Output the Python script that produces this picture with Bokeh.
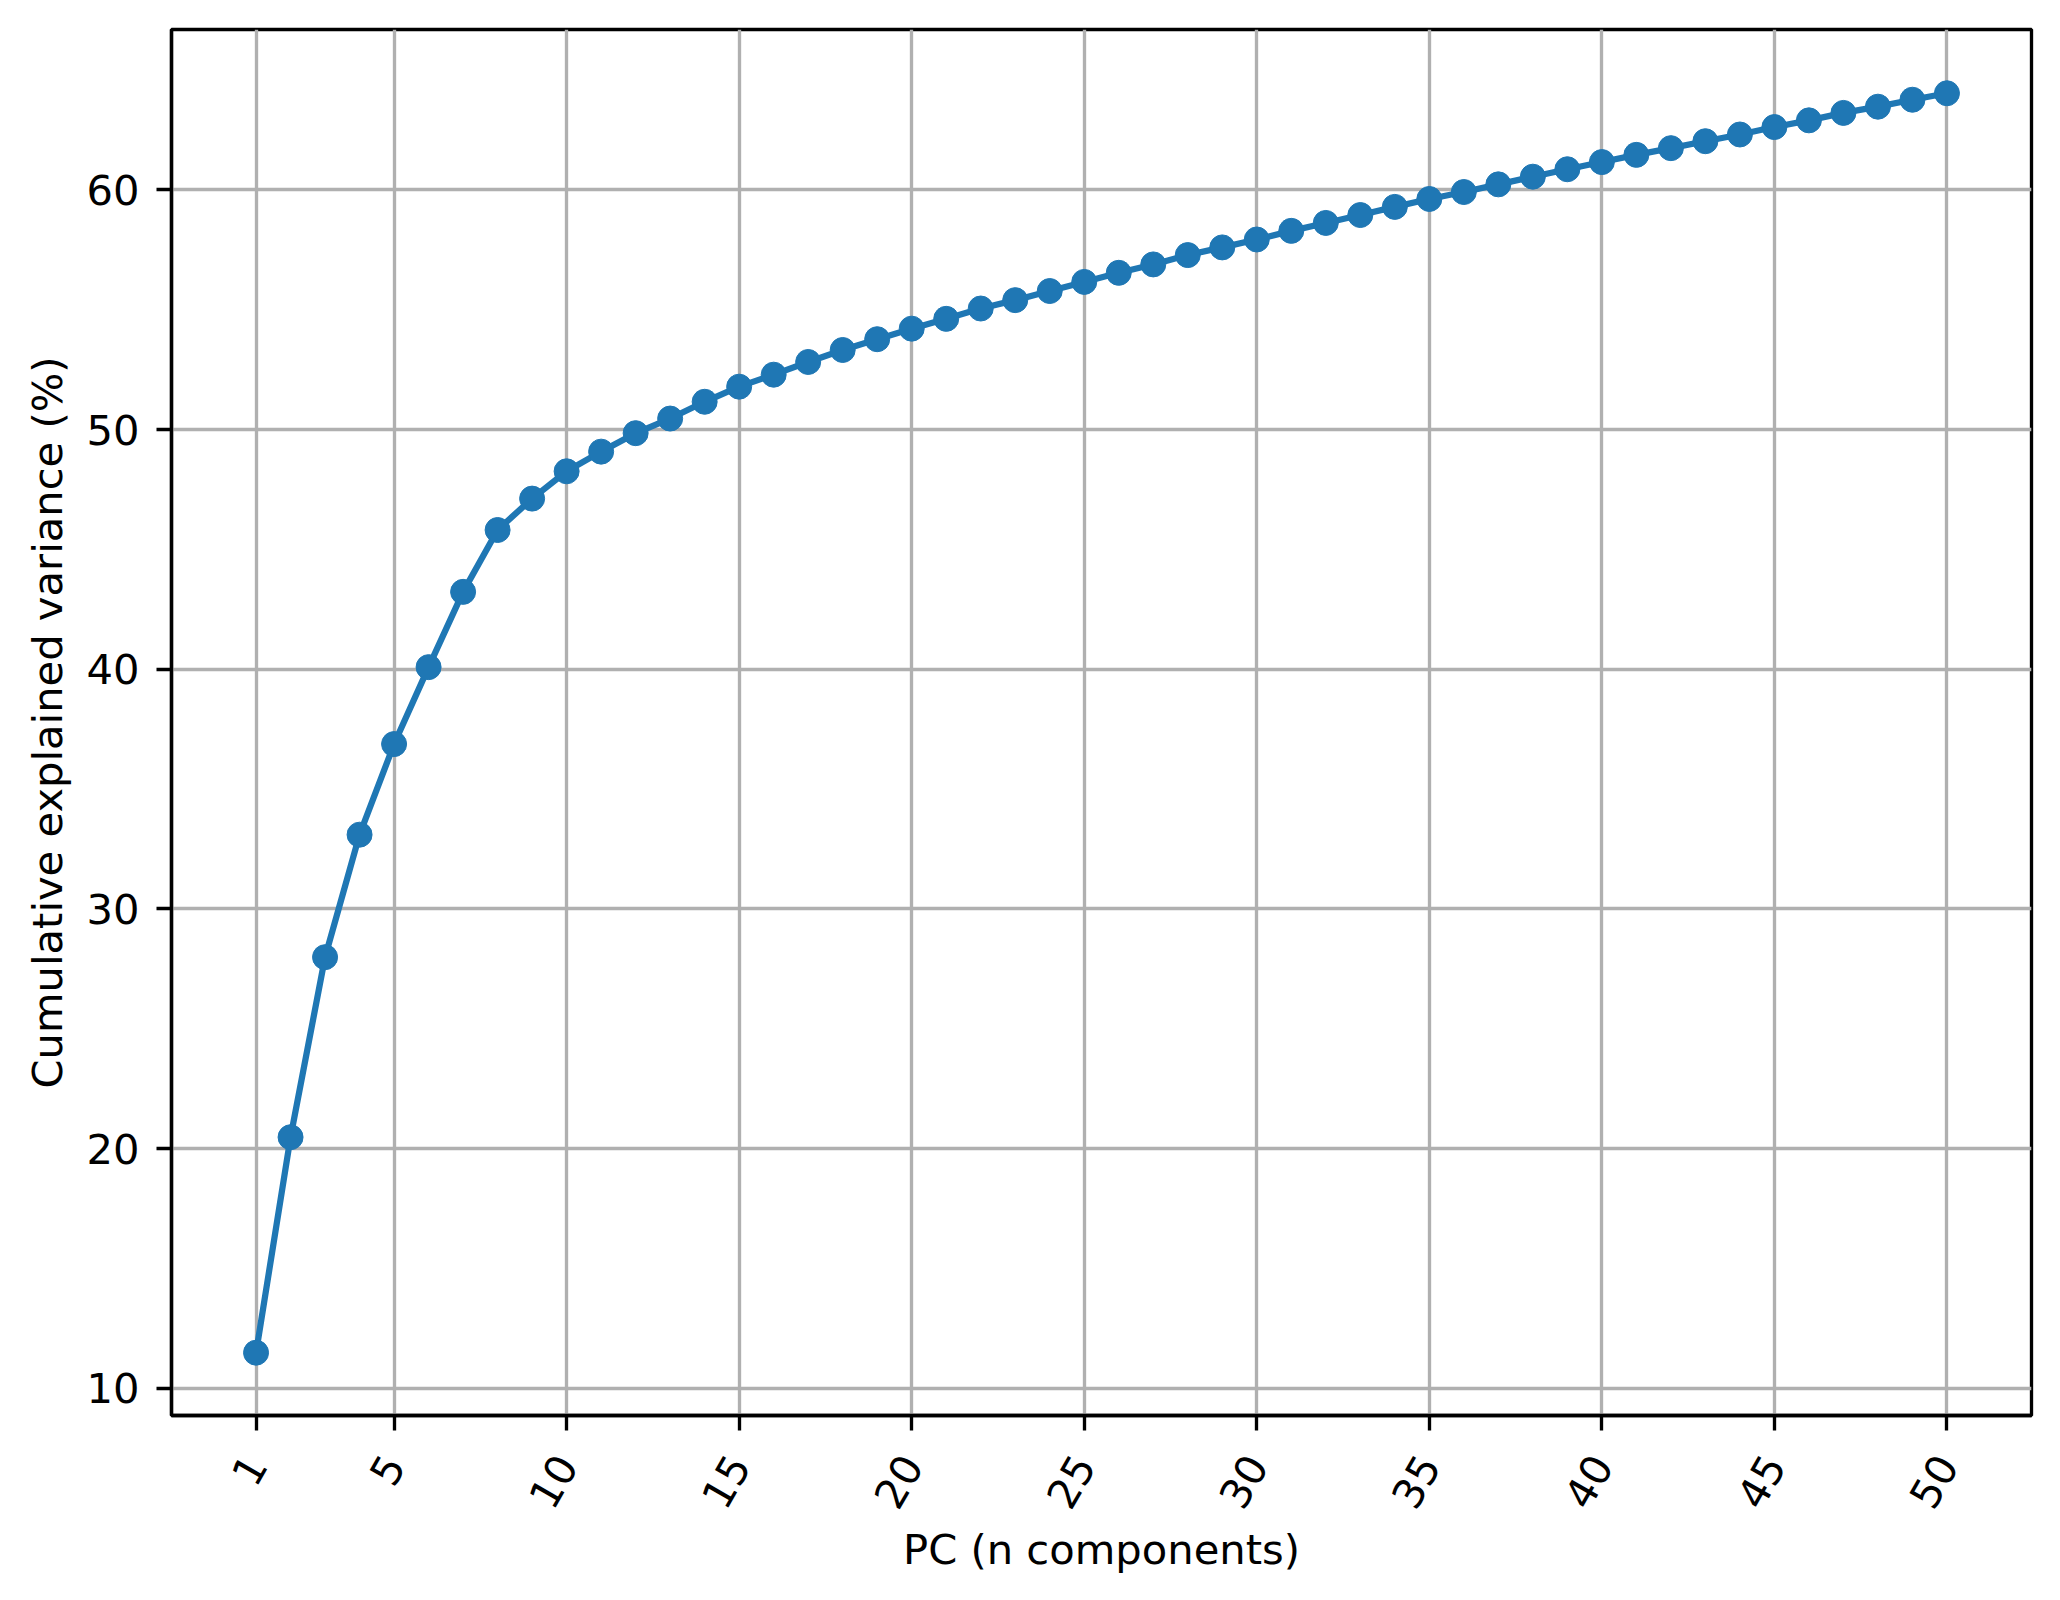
import math
from bokeh.plotting import figure
from bokeh.models import Range1d, FixedTicker
from bokeh.embed import file_html
from bokeh.resources import INLINE

pc = list(range(1, 51))
cum_var = [11.49, 20.48, 27.99, 33.10, 36.88, 40.09, 43.23, 45.81, 47.12, 48.26,
           49.08, 49.85, 50.46, 51.16, 51.79, 52.29, 52.82, 53.32, 53.77, 54.21,
           54.62, 55.05, 55.40, 55.78, 56.16, 56.54, 56.89, 57.28, 57.60, 57.93,
           58.29, 58.62, 58.95, 59.29, 59.62, 59.91, 60.23, 60.55, 60.86, 61.16,
           61.46, 61.74, 62.03, 62.31, 62.62, 62.90, 63.21, 63.47, 63.76, 64.03]
x_ticks = [1, 5, 10, 15, 20, 25, 30, 35, 40, 45, 50]
y_ticks = [10, 20, 30, 40, 50, 60]

FONT = "DejaVu Sans"
FS = "41.67px"
LW = 3.33

p = figure(frame_width=1860, frame_height=1386,
           min_border_left=171, min_border_top=29, min_border_right=13, min_border_bottom=169,
           x_range=Range1d(-1.45, 52.45), y_range=Range1d(8.87, 66.69),
           output_backend="svg", toolbar_location=None,
           background_fill_color="white", border_fill_color="white")

p.line(pc, cum_var, line_color="#1f77b4", line_width=6.25)
p.scatter(pc, cum_var, size=25, fill_color="#1f77b4", line_color="#1f77b4", line_width=1)

p.xaxis.ticker = FixedTicker(ticks=x_ticks)
p.yaxis.ticker = FixedTicker(ticks=y_ticks)
p.xaxis.major_label_orientation = math.pi / 3

p.xaxis.axis_label = "PC (n components)"
p.yaxis.axis_label = "Cumulative explained variance (%)"

for ax in (p.xaxis, p.yaxis):
    ax.axis_label_text_font = FONT
    ax.axis_label_text_font_size = FS
    ax.axis_label_text_font_style = "normal"
    ax.axis_label_text_color = "black"
    ax.major_label_text_font = FONT
    ax.major_label_text_font_size = FS
    ax.major_label_text_color = "black"
    ax.axis_line_color = "black"
    ax.axis_line_width = LW
    ax.major_tick_line_color = "black"
    ax.major_tick_line_width = LW
    ax.major_tick_out = 15
    ax.major_tick_in = 0
    ax.minor_tick_line_color = None

p.yaxis.major_label_standoff = 17
p.yaxis.axis_label_standoff = 11
p.xaxis.major_label_standoff = 28
p.xaxis.axis_label_standoff = 3

p.grid.grid_line_color = "#b0b0b0"
p.grid.grid_line_width = LW
p.outline_line_color = "black"
p.outline_line_width = LW
p.outline_line_alpha = 1.0

open("out.html", "w").write(file_html(p, INLINE))
